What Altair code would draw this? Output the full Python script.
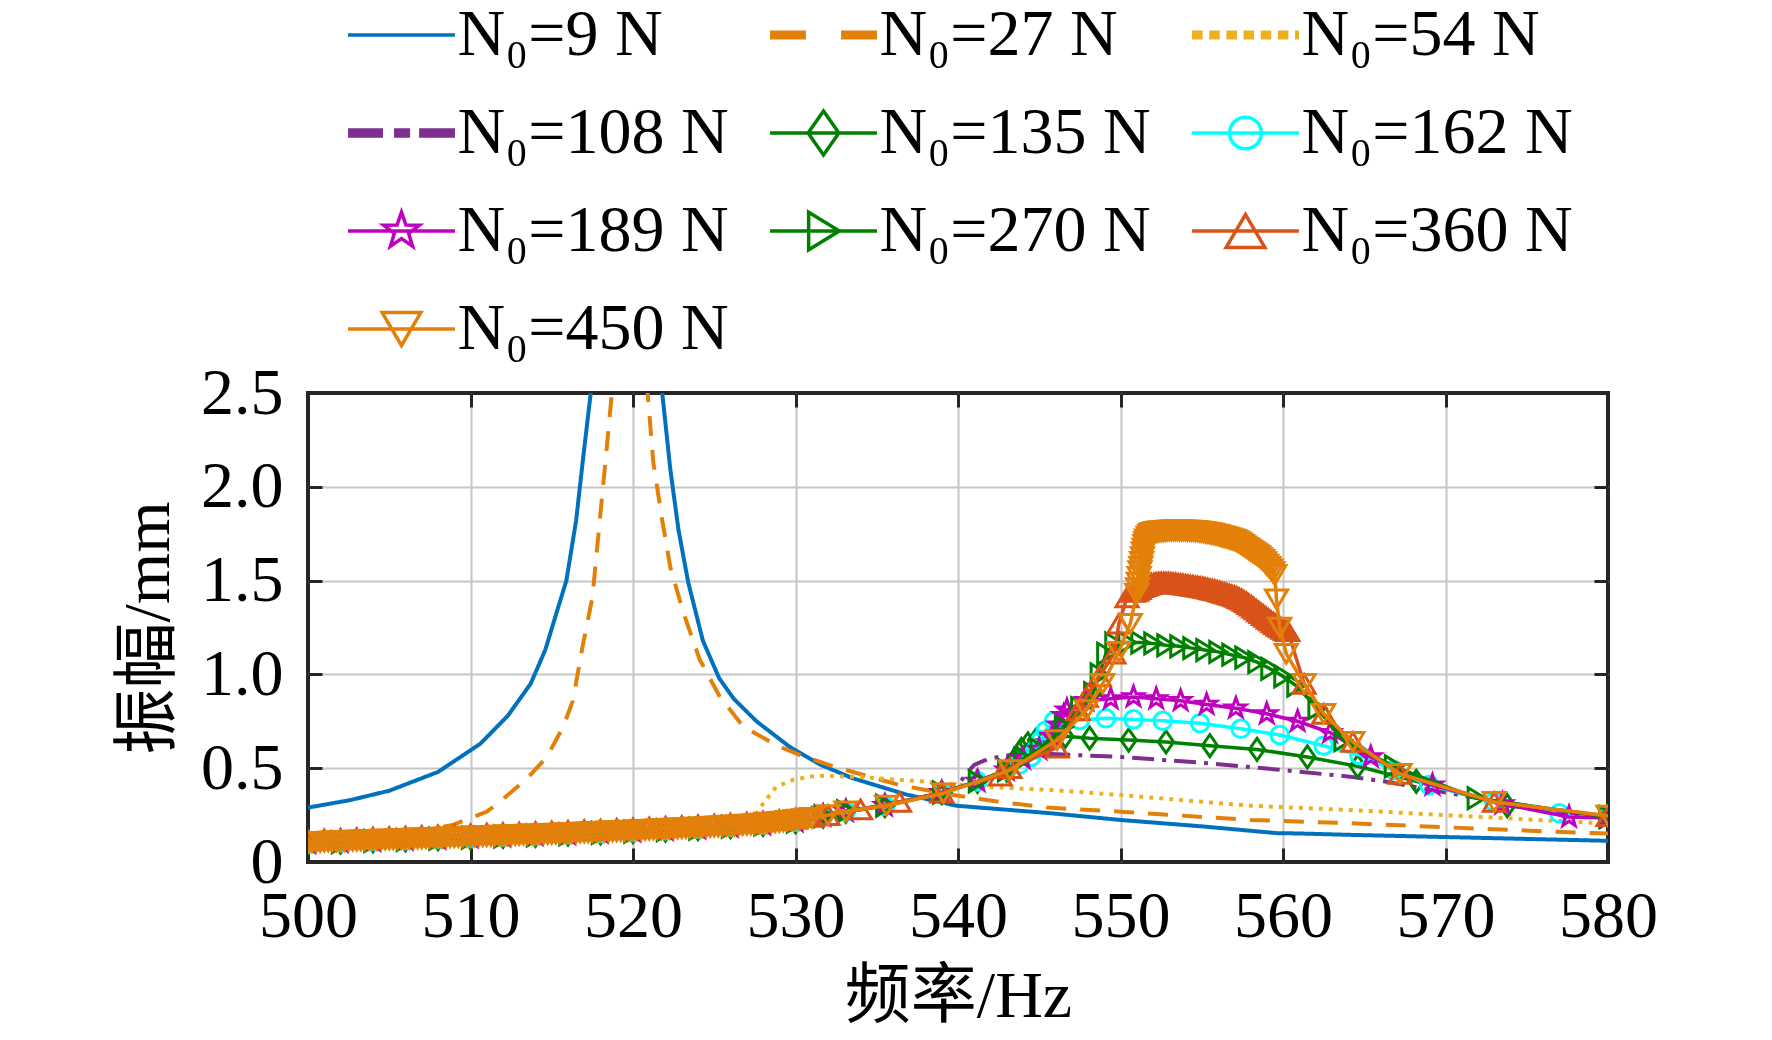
import altair as alt
import pandas as pd

# ---------------- categories / styles ----------------
SERIES = ["N₀=9 N", "N₀=27 N", "N₀=54 N", "N₀=108 N", "N₀=135 N",
          "N₀=162 N", "N₀=189 N", "N₀=270 N", "N₀=360 N", "N₀=450 N"]
COLORS = ["#0072BD", "#E3800A", "#EDB120", "#7E2F8E", "#008000",
          "#00FFFF", "#BF00BF", "#008000", "#D95319", "#E3800A"]
DASHES = [[1, 0], [20, 14], [4, 6], [22, 8, 4, 8]]
X_TICKS = [500, 510, 520, 530, 540, 550, 560, 570, 580]
Y_TICKS = [0, 0.5, 1.0, 1.5, 2.0, 2.5]

# ---------------- data ----------------
F9 = [500, 502.6, 505, 508, 510.6, 512.3, 513.7, 514.6, 515.3, 515.9, 516.5, 516.9, 517.4,
      518.2, 519.5, 520.8, 521.8, 522.3, 522.8, 523.4, 524.3, 525.3, 526.2, 527.6, 529.7,
      531.5, 533.5, 536.8, 539.9, 545.7, 550, 555, 559.6, 561, 564, 570, 575, 580]
A9 = [0.29, 0.33, 0.38, 0.48, 0.63, 0.78, 0.95, 1.13, 1.33, 1.50, 1.82, 2.13, 2.5,
      3.6, 6.0, 3.6, 2.5, 2.09, 1.77, 1.49, 1.18, 0.98, 0.87, 0.75, 0.61,
      0.52, 0.447, 0.36, 0.30, 0.26, 0.224, 0.19, 0.154, 0.152, 0.145, 0.133, 0.123, 0.113]

F27 = [500, 503, 506, 508.9, 511, 511.8, 513.5, 514.7, 515.7, 516.3, 516.9, 517.5, 517.9,
       518.3, 518.7, 519.8, 520.9, 521.25, 521.8, 522.3, 523.1, 524.1, 525.35, 526.8, 529.0,
       530.3, 532.3, 536.4, 539.7, 542.6, 545.5, 550, 558, 564, 570, 578.9, 580]
A27 = [0.12, 0.135, 0.155, 0.197, 0.268, 0.32, 0.447, 0.56, 0.72, 0.86, 1.15, 1.41, 1.77,
       2.13, 2.5, 5.0, 2.5, 2.13, 1.82, 1.57, 1.33, 1.08, 0.88, 0.72, 0.615,
       0.57, 0.51, 0.41, 0.357, 0.32, 0.29, 0.268, 0.224, 0.207, 0.185, 0.154, 0.152]

F54 = [500, 505, 510, 515, 520, 524, 526.5, 527.5, 528, 528.8, 529.9, 531.3, 533.6, 537.7,
       541.8, 545.7, 550, 558, 564.1, 570, 579.5, 580]
A54 = [0.11, 0.125, 0.14, 0.155, 0.17, 0.19, 0.21, 0.25, 0.31, 0.40, 0.44, 0.46, 0.455, 0.43,
       0.40, 0.384, 0.357, 0.30, 0.277, 0.25, 0.207, 0.205]

F108 = [500, 505, 510, 515, 520, 525, 530, 534, 537, 539, 540.1, 540.5, 541, 541.6, 542.2,
        543.2, 545.7, 550, 554.9, 560, 564.1, 566.2, 571.3, 575, 580]
A108 = [0.11, 0.125, 0.14, 0.155, 0.17, 0.19, 0.23, 0.28, 0.33, 0.37, 0.42, 0.47, 0.517, 0.54, 0.555,
        0.57, 0.576, 0.56, 0.53, 0.49, 0.455, 0.43, 0.35, 0.30, 0.233]

# common low branch shared by the marker curves 135-270 N
LOW_F = [500, 502, 504, 506, 508, 510, 512, 514, 516, 518, 520, 522, 524, 526, 528, 530]
LOW_A = [0.10, 0.106, 0.112, 0.118, 0.124, 0.13, 0.136, 0.142, 0.148, 0.155, 0.162, 0.17,
         0.178, 0.188, 0.20, 0.215]

F135 = [531.7, 533.1, 535.5, 539, 541.2, 543, 543.3, 543.6, 543.9, 544.3, 544.8, 545.6, 546.6,
        548.1, 550.5, 552.8, 555.5, 558.4, 561.5, 564.6, 568.2, 573.8, 580]
A135 = [0.245, 0.27, 0.30, 0.37, 0.43, 0.49, 0.52, 0.56, 0.60, 0.63, 0.65, 0.66, 0.67,
        0.66, 0.65, 0.64, 0.62, 0.60, 0.56, 0.51, 0.43, 0.30, 0.245]

F162 = [531.7, 533.1, 535.5, 539, 541.2, 543, 543.8, 544.5, 544.8, 545.1, 545.4, 545.9, 547.5,
        549.1, 550.8, 552.6, 554.9, 557.4, 559.8, 562.5, 564.7, 566.8, 569, 573, 577, 580]
A162 = [0.245, 0.27, 0.30, 0.37, 0.43, 0.49, 0.52, 0.56, 0.60, 0.65, 0.70, 0.75, 0.757,
        0.766, 0.76, 0.753, 0.74, 0.71, 0.677, 0.62, 0.57, 0.49, 0.41, 0.32, 0.26, 0.245]

F189 = [531.7, 533.1, 535.5, 539, 541.2, 543, 544, 545, 545.8, 546.2, 546.5, 546.7, 547.9,
        549.4, 550.8, 552.2, 553.7, 555.3, 557.1, 559, 560.9, 562.9, 565.4, 569.2, 573.5,
        577.6, 580]
A189 = [0.245, 0.27, 0.30, 0.37, 0.43, 0.49, 0.55, 0.60, 0.67, 0.73, 0.78, 0.81, 0.86,
        0.87, 0.88, 0.87, 0.86, 0.84, 0.82, 0.79, 0.75, 0.69, 0.56, 0.41, 0.31,
        0.24, 0.235]

F270 = [531.7, 533.1, 535.5, 539, 541.2, 543, 544, 545, 546.5, 547.5, 548.3, 548.7, 549.1,
        549.6, 550.4, 551.2, 552, 552.8, 553.6, 554.4, 555.2, 556, 556.8, 557.6, 558.4,
        559.2, 560, 560.8, 562.1, 563.7, 566.8, 571.9, 580]
A270 = [0.245, 0.27, 0.30, 0.37, 0.43, 0.49, 0.55, 0.60, 0.72, 0.82, 0.90, 1.0, 1.11,
        1.165, 1.17, 1.17, 1.165, 1.155, 1.15, 1.14, 1.13, 1.12, 1.105, 1.09, 1.065,
        1.03, 0.99, 0.94, 0.82, 0.65, 0.51, 0.34, 0.24]

F360 = [500, 501, 502, 503, 504, 505, 506, 507, 508, 509,
        510, 511, 512, 513, 514, 515, 516, 517, 518, 519,
        520, 521, 522, 523, 524, 525, 526, 527, 528, 529,
        530, 531,
        532, 534, 536.4, 539, 542.6, 543.2, 546.1, 547.4, 547.9, 548.7, 549.6, 549.9, 550.4, 550.8,
        551.0, 551.15, 551.3, 551.45, 551.6, 551.75, 551.9, 552.05, 552.2, 552.35,
        552.5, 552.65, 552.8, 552.95, 553.1, 553.25, 553.4, 553.55, 553.7, 553.85,
        554.0, 554.15, 554.3, 554.45, 554.6, 554.75, 554.9, 555.05, 555.2, 555.35,
        555.5, 555.65, 555.8, 555.95, 556.1, 556.25, 556.4, 556.55, 556.7, 556.85,
        557.0, 557.15, 557.3, 557.45, 557.6, 557.75, 557.9, 558.05, 558.2, 558.35,
        558.5, 558.65, 558.8, 558.95, 559.1, 559.25, 559.4, 559.55, 559.7, 559.85,
        560.0, 560.15, 560.3,
        561.3, 562.5, 564.3, 567.2, 573.0, 580.0]
A360 = [0.118, 0.121, 0.124, 0.127, 0.130, 0.133, 0.136, 0.139, 0.142, 0.145,
        0.148, 0.151, 0.154, 0.157, 0.160, 0.163, 0.166, 0.170, 0.173, 0.177,
        0.180, 0.184, 0.188, 0.192, 0.196, 0.200, 0.205, 0.210, 0.216, 0.223,
        0.231, 0.240,
        0.25, 0.28, 0.32, 0.37, 0.46, 0.50, 0.61, 0.81, 0.88, 0.99, 1.11, 1.27, 1.41, 1.44,
        1.445, 1.455, 1.465, 1.47, 1.475, 1.48, 1.483, 1.486, 1.488, 1.49,
        1.49, 1.49, 1.49, 1.489, 1.488, 1.487, 1.485, 1.483, 1.482, 1.48,
        1.478, 1.476, 1.474, 1.472, 1.47, 1.468, 1.466, 1.464, 1.461, 1.458,
        1.455, 1.452, 1.449, 1.446, 1.442, 1.438, 1.434, 1.43, 1.426, 1.422,
        1.418, 1.413, 1.407, 1.4, 1.392, 1.384, 1.375, 1.366, 1.356, 1.346,
        1.336, 1.326, 1.316, 1.306, 1.296, 1.286, 1.277, 1.268, 1.259, 1.25,
        1.242, 1.235, 1.23,
        0.95, 0.79, 0.64, 0.47, 0.32, 0.245]

F450 = [500.0, 500.25, 500.5, 500.75, 501.0, 501.25, 501.5, 501.75,
        502.0, 502.25, 502.5, 502.75, 503.0, 503.25, 503.5, 503.75,
        504.0, 504.25, 504.5, 504.75, 505.0, 505.25, 505.5, 505.75,
        506.0, 506.25, 506.5, 506.75, 507.0, 507.25, 507.5, 507.75,
        508.0, 508.25, 508.5, 508.75, 509.0, 509.25, 509.5, 509.75,
        510.0, 510.25, 510.5, 510.75, 511.0, 511.25, 511.5, 511.75,
        512.0, 512.25, 512.5, 512.75, 513.0, 513.25, 513.5, 513.75,
        514.0, 514.25, 514.5, 514.75, 515.0, 515.25, 515.5, 515.75,
        516.0, 516.25, 516.5, 516.75, 517.0, 517.25, 517.5, 517.75,
        518.0, 518.25, 518.5, 518.75, 519.0, 519.25, 519.5, 519.75,
        520.0, 520.25, 520.5, 520.75, 521.0, 521.25, 521.5, 521.75,
        522.0, 522.25, 522.5, 522.75, 523.0, 523.25, 523.5, 523.75,
        524.0, 524.25, 524.5, 524.75, 525.0, 525.25, 525.5, 525.75,
        526.0, 526.25, 526.5, 526.75, 527.0, 527.25, 527.5, 527.75,
        528.0, 528.25, 528.5, 528.75, 529.0, 529.25, 529.5, 529.75,
        530.0, 530.25, 530.5, 530.75, 531.0,
        532.0, 533.1, 535.6, 539.1, 543.2, 546.1, 547.9, 548.9, 549.9, 550.6,
        551.0, 551.05, 551.1, 551.15, 551.2, 551.25, 551.3, 551.35, 551.4, 551.45,
        551.5, 551.55, 551.6, 551.7, 551.8, 551.9,
        552.0, 552.125, 552.25, 552.375, 552.5, 552.625, 552.75, 552.875,
        553.0, 553.125, 553.25, 553.375, 553.5, 553.625, 553.75, 553.875,
        554.0, 554.125, 554.25, 554.375, 554.5, 554.625, 554.75, 554.875,
        555.0, 555.125, 555.25, 555.375, 555.5, 555.625, 555.75, 555.875,
        556.0, 556.125, 556.25, 556.375, 556.5, 556.625, 556.75, 556.875,
        557.0, 557.125, 557.25, 557.375, 557.5, 557.625, 557.75, 557.875,
        558.0, 558.125, 558.25, 558.375, 558.5, 558.625, 558.75, 558.875,
        559.0, 559.125, 559.25, 559.375, 559.5,
        559.6, 559.8, 560.2, 561.3, 562.5, 564.3, 567.2, 573.0, 580.0]
A450 = [0.105, 0.106, 0.106, 0.107, 0.108, 0.109, 0.110, 0.110,
        0.111, 0.112, 0.113, 0.114, 0.114, 0.115, 0.116, 0.117,
        0.117, 0.118, 0.119, 0.120, 0.120, 0.121, 0.122, 0.123,
        0.123, 0.124, 0.125, 0.126, 0.126, 0.127, 0.128, 0.129,
        0.129, 0.130, 0.131, 0.132, 0.132, 0.133, 0.134, 0.135,
        0.135, 0.136, 0.137, 0.138, 0.138, 0.139, 0.140, 0.141,
        0.141, 0.142, 0.143, 0.144, 0.144, 0.145, 0.146, 0.147,
        0.147, 0.148, 0.149, 0.150, 0.150, 0.151, 0.152, 0.153,
        0.154, 0.155, 0.156, 0.157, 0.157, 0.158, 0.159, 0.160,
        0.161, 0.162, 0.163, 0.164, 0.164, 0.165, 0.166, 0.167,
        0.168, 0.169, 0.170, 0.171, 0.172, 0.173, 0.174, 0.175,
        0.176, 0.177, 0.178, 0.179, 0.180, 0.181, 0.182, 0.183,
        0.184, 0.185, 0.186, 0.187, 0.189, 0.190, 0.191, 0.193,
        0.194, 0.195, 0.196, 0.198, 0.199, 0.200, 0.202, 0.204,
        0.206, 0.208, 0.210, 0.212, 0.214, 0.216, 0.219, 0.221,
        0.224, 0.226, 0.229, 0.232, 0.235,
        0.25, 0.27, 0.30, 0.366, 0.49, 0.65, 0.81, 0.95, 1.12, 1.27,
        1.43, 1.46, 1.49, 1.52, 1.55, 1.575, 1.60, 1.625, 1.65, 1.67,
        1.69, 1.705, 1.72, 1.735, 1.745, 1.75,
        1.755, 1.758, 1.76, 1.762, 1.763, 1.764, 1.765, 1.766,
        1.767, 1.767, 1.768, 1.768, 1.768, 1.768, 1.768, 1.767,
        1.767, 1.766, 1.766, 1.765, 1.765, 1.764, 1.763, 1.761,
        1.76, 1.758, 1.756, 1.754, 1.752, 1.75, 1.747, 1.745,
        1.742, 1.739, 1.736, 1.733, 1.73, 1.727, 1.724, 1.72,
        1.717, 1.711, 1.705, 1.698, 1.69, 1.683, 1.675, 1.668,
        1.66, 1.653, 1.645, 1.638, 1.63, 1.62, 1.61, 1.598,
        1.585, 1.573, 1.56, 1.545, 1.53,
        1.40, 1.25, 1.11, 0.95, 0.79, 0.64, 0.47, 0.32, 0.247]

SERIES_DATA = [
    (F9, A9), (F27, A27), (F54, A54), (F108, A108),
    (LOW_F + F135, LOW_A + A135), (LOW_F + F162, LOW_A + A162),
    (LOW_F + F189, LOW_A + A189), (LOW_F + F270, LOW_A + A270),
    (F360, A360), (F450, A450),
]

rows = []
for name, (fs, vals) in zip(SERIES, SERIES_DATA):
    assert len(fs) == len(vals), (name, len(fs), len(vals))
    for i, (f, a) in enumerate(zip(fs, vals)):
        rows.append({"series": name, "f": f, "a": a, "i": i})
df = pd.DataFrame(rows)

# ---------------- styling ----------------
W, H = 1300, 469
FONT = "Liberation Serif"
CJK_FONT = "Liberation Serif, Noto Sans CJK SC"
DARK = "#262626"
GRID = "#c6c6c6"


def poly(pts, k=1.0):
    return "M" + "L".join(f"{x * k:.3f},{y * k:.3f}" for x, y in pts) + "Z"


def circle(r):
    return f"M{-r},0A{r} {r} 0 1 0 {r},0A{r} {r} 0 1 0 {-r},0Z"


def bars(segs, t):
    out = ""
    for yy in (-t, 0, t):
        for x0, x1 in segs:
            out += f"M{x0},{yy}L{x1},{yy}"
    return out


DIAMOND = [(0, -1), (0.7, 0), (0, 1), (-0.7, 0)]
TRI_R = [(-0.75, -0.95), (0.8, 0), (-0.75, 0.95)]
TRI_U = [(0, -0.85), (1, 0.85), (-1, 0.85)]
TRI_D = [(-1, -0.85), (1, -0.85), (0, 0.85)]
STAR = [(0, -0.95), (0.223, -0.307), (0.904, -0.294), (0.361, 0.117), (0.558, 0.769),
        (0, 0.38), (-0.558, 0.769), (-0.361, 0.117), (-0.904, -0.294), (-0.223, -0.307)]

MARKERS = [poly(DIAMOND), circle(0.8), poly(STAR), poly(TRI_R), poly(TRI_U), poly(TRI_D)]

LINE = "M-2.43,0L2.43,0"
DOTS = [(-2.43, -1.95), (-1.65, -1.17), (-0.87, -0.39), (-0.09, 0.39), (0.69, 1.17),
        (1.47, 1.95), (2.25, 2.43)]
LEG_SHAPES = [
    LINE,
    bars([(-2.43, -0.8), (0.8, 2.43)], 0.125),
    bars(DOTS, 0.125),
    bars([(-2.43, -0.84), (-0.34, 0.39), (0.8, 2.43)], 0.14),
    LINE + poly(DIAMOND),
    LINE + circle(0.72),
    LINE + poly(STAR, 0.9),
    LINE + poly(TRI_R, 0.9),
    LINE + poly(TRI_U, 0.88),
    LINE + poly(TRI_D, 0.88),
]

x_scale = alt.Scale(domain=[500, 580], nice=False, zero=False)
y_scale = alt.Scale(domain=[0, 2.5], nice=False, zero=False)
color_scale = alt.Scale(domain=SERIES, range=COLORS)

x_main = alt.Axis(
    orient="bottom", values=X_TICKS, grid=True, gridColor=GRID, gridWidth=2,
    gridOpacity={"condition": {"test": "datum.value <= 500 || datum.value >= 580", "value": 0}, "value": 1},
    ticks=False, tickSize=0, domain=False,
    labelFont=FONT, labelFontSize=66, labelColor="black", labelPadding=22,
    labelFlush=False, labelOverlap=False,
    title="频率/Hz", titleFont=CJK_FONT, titleFontSize=66, titleFontWeight="normal",
    titleColor="black", titlePadding=15,
)
y_main = alt.Axis(
    orient="left", values=Y_TICKS, grid=True, gridColor=GRID, gridWidth=2,
    gridOpacity={"condition": {"test": "datum.value <= 0 || datum.value >= 2.5", "value": 0}, "value": 1},
    ticks=False, tickSize=0, domain=False,
    labelFont=FONT, labelFontSize=66, labelColor="black", labelPadding=25,
    labelFlush=False, labelOverlap=False,
    labelExpr="datum.value == 0 ? '0' : format(datum.value, '.1f')",
    title="振幅/mm", titleFont=CJK_FONT, titleFontSize=66, titleFontWeight="normal",
    titleColor="black", titlePadding=18,
)


def tick_axis(orient, offset, values):
    return alt.Axis(orient=orient, offset=offset, values=values, ticks=True, tickSize=14,
                    tickWidth=3, tickColor=DARK, labels=False, domain=False, grid=False,
                    title=None)


LEG = alt.Legend(
    title=None, orient="none", direction="horizontal", legendX=40, legendY=-391, columns=3,
    columnPadding=34, rowPadding=32, padding=0,
    symbolSize=1936, symbolStrokeWidth=3.5, symbolOffset=20.5, symbolOpacity=1,
    labelOffset=23, labelFont=FONT, labelFontSize=66, labelColor="black", labelLimit=600,
)

# legend layer first so that its explicit legend settings win the merge
legend_layer = alt.Chart(alt.InlineData(values=[])).mark_point(
    filled=False, size=1936, strokeWidth=3.5, opacity=1
).encode(
    x=alt.X("f:Q", scale=x_scale, axis=tick_axis("bottom", -H, X_TICKS)),
    y=alt.Y("a:Q", scale=y_scale, axis=tick_axis("left", -W, Y_TICKS)),
    color=alt.Color("series:N", scale=color_scale, legend=LEG),
    shape=alt.Shape("series:N", scale=alt.Scale(domain=SERIES, range=LEG_SHAPES), legend=LEG),
)

tick_layer = alt.Chart(alt.InlineData(values=[])).mark_point(opacity=0).encode(
    x=alt.X("f:Q", axis=tick_axis("top", -H, X_TICKS)),
    y=alt.Y("a:Q", axis=tick_axis("right", -W, Y_TICKS)),
)

line_a = alt.Chart(df).transform_filter(
    alt.FieldOneOfPredicate(field="series", oneOf=SERIES[:4])
).mark_line(clip=True, strokeWidth=4).encode(
    x=alt.X("f:Q", axis=x_main),
    y=alt.Y("a:Q", axis=y_main),
    color=alt.Color("series:N", scale=color_scale, legend=None),
    strokeDash=alt.StrokeDash("series:N", scale=alt.Scale(domain=SERIES[:4], range=DASHES), legend=None),
    order=alt.Order("i:Q"),
)

layers = [legend_layer, tick_layer, line_a]
for k in range(4, 10):
    sub = alt.Chart(df).transform_filter(alt.FieldEqualPredicate(field="series", equal=SERIES[k]))
    enc = dict(
        x=alt.X("f:Q", axis=None),
        y=alt.Y("a:Q", axis=None),
        color=alt.Color("series:N", scale=color_scale, legend=None),
    )
    layers.append(sub.mark_line(clip=True, strokeWidth=3.5).encode(order=alt.Order("i:Q"), **enc))
    layers.append(sub.mark_point(clip=True, shape=MARKERS[k - 4], size=484, filled=False,
                                 strokeWidth=3, opacity=1).encode(**enc))

chart = alt.layer(*layers).resolve_axis(
    x="independent", y="independent"
).properties(
    width=W, height=H,
    padding={"left": 300, "top": 385, "right": 156, "bottom": 170},
    autosize=alt.AutoSizeParams(type="none"),
    background="white",
).configure_view(stroke=DARK, strokeWidth=4)

chart.save("out.html", embed_options={"renderer": "svg", "actions": False})
